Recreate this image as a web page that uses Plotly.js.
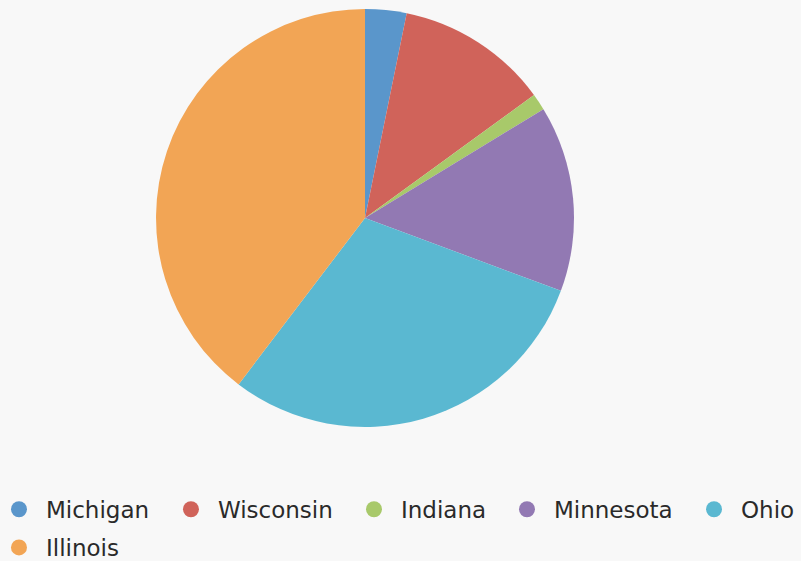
<!DOCTYPE html>
<html><head><meta charset="utf-8">
<script src="https://cdn.plot.ly/plotly-3.0.1.min.js"></script>
<style>html,body{margin:0;padding:0;background:#f8f8f8;}#chart{width:801px;height:561px;}</style>
</head><body><div id="chart"></div>
<script>
const states = ["Michigan", "Wisconsin", "Indiana", "Minnesota", "Ohio", "Illinois"];
const shares = [3.2, 11.8, 1.3, 14.4, 29.7, 39.7];
const colors = ["#5a96cb", "#d0635a", "#a8c96a", "#9279b3", "#5ab8d1", "#f2a555"];
// legend entry placement (paper coords): x of each entry, and row
const legendX = [-0.01, 0.2047, 0.4332, 0.6242, 0.8577, -0.01];
const legendY = [0.1305, 0.1305, 0.1305, 0.1305, 0.1305, 0.0625];

const traces = [{
  type: "pie",
  labels: states,
  values: shares,
  sort: false,
  direction: "clockwise",
  rotation: 0,
  textinfo: "none",
  hoverinfo: "label+percent",
  showlegend: false,
  marker: {colors: colors, line: {width: 0}},
  domain: {x: [0.1948, 0.7166], y: [0.2389, 0.984]}
}];

const layout = {
  width: 801, height: 561,
  paper_bgcolor: "#f8f8f8", plot_bgcolor: "#f8f8f8",
  margin: {l: 0, r: 0, t: 0, b: 0, autoexpand: false},
  xaxis: {visible: false}, yaxis: {visible: false},
  showlegend: true
};

states.forEach((s, i) => {
  const key = i === 0 ? "legend" : "legend" + (i + 1);
  traces.push({
    type: "scatter", mode: "markers", x: [null], y: [null], name: s,
    legend: key,
    marker: {symbol: "circle", size: 17, color: colors[i]},
    showlegend: true, hoverinfo: "skip"
  });
  layout[key] = {
    orientation: "h", x: legendX[i], xanchor: "left", y: legendY[i], yanchor: "top",
    font: {family: "DejaVu Sans, sans-serif", size: 23, color: "#2a2a2a"},
    itemwidth: 44, bgcolor: "rgba(0,0,0,0)"
  };
});

Plotly.newPlot("chart", traces, layout, {displayModeBar: false, staticPlot: true});
</script></body></html>
